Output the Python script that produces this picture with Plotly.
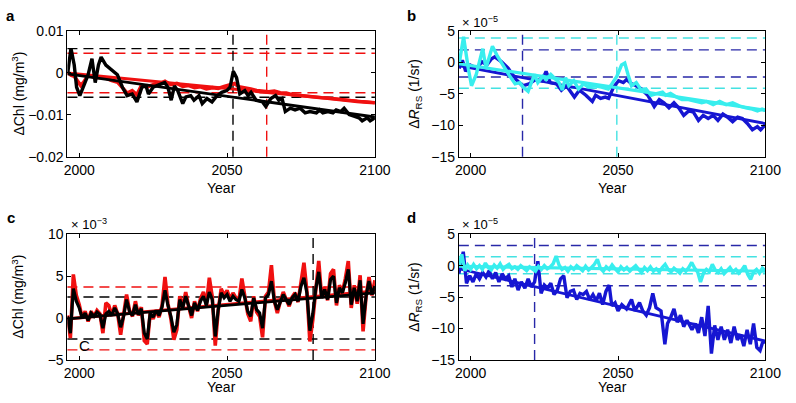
import plotly.graph_objects as go

W, H = 796, 403
FONT = "Liberation Sans, Arial, Helvetica, sans-serif"
RED = "#f01010"
BLACK = "#000000"
BLUE = "#1616d2"
NAVY = "#2828a8"
CYAN = "#38eeee"
CYAN_D = "#44e2e2"

X_RANGE = [1996, 2100]
TREND_YEARS = [1996, 2100]

# ---------------- panel a (Chl, x 1e-3 mg/m3) ----------------
a_black_years = [1996.1, 1997.2, 1998.3, 1999.1, 2000.2, 2001.3, 2003.0, 2004.3, 2005.4, 2006.5,
                 2007.4, 2009.0, 2011.3, 2012.9, 2014.6, 2016.2, 2017.9, 2019.5, 2021.2, 2022.6,
                 2023.4, 2025.0, 2027.3, 2028.9, 2030.0, 2031.1, 2032.2, 2033.3, 2035.0, 2036.1,
                 2037.7, 2038.8, 2040.5, 2041.6, 2043.2, 2044.9, 2046.6, 2048.2, 2049.9, 2051.0,
                 2052.1, 2053.2, 2054.3, 2056.0, 2057.1, 2058.1, 2059.8, 2062.0, 2063.1, 2064.8,
                 2066.4, 2067.5, 2068.6, 2069.7, 2071.4, 2073.0, 2074.7, 2076.4, 2078.0, 2080.2,
                 2081.3, 2082.4, 2084.1, 2085.8, 2086.9, 2088.5, 2089.6, 2091.3, 2092.9, 2094.6,
                 2095.7, 2097.4, 2098.4, 2100.0]
a_black_vals = [0.0, 5.9, 1.9, -3.4, -5.4, -3.4, -0.4, 3.4, -2.3, 1.9,
                3.8, 1.9, 0.4, -0.4, -3.4, -5.4, -5.0, -6.9, -3.4, -3.1,
                -5.0, -3.4, -2.7, -2.3, -3.4, -6.5, -3.1, -4.2, -7.3, -5.7,
                -5.4, -6.5, -5.4, -7.3, -6.1, -6.9, -5.4, -4.6, -4.2, -3.4,
                0.4, -1.1, -5.0, -4.2, -5.4, -4.6, -6.5, -6.9, -8.0, -6.1,
                -5.4, -6.5, -6.1, -9.2, -8.4, -8.8, -8.4, -9.5, -9.2, -9.5,
                -8.8, -9.5, -9.2, -9.5, -8.8, -9.2, -8.4, -9.9, -10.3, -10.7,
                -11.4, -10.7, -11.4, -10.7]
a_red_years = [1996, 1997.2, 1998.3, 1999.5, 2000.5, 2001.5, 2003, 2005, 2007, 2009,
               2011, 2013, 2014.6, 2016.2, 2017.9, 2019.5, 2021, 2023, 2025, 2027,
               2029, 2031, 2033, 2035, 2037, 2039, 2041, 2043, 2045, 2047,
               2049, 2051, 2052.5, 2054, 2056, 2058, 2060, 2062, 2064, 2066,
               2068, 2070, 2072, 2074, 2076, 2078, 2080, 2082, 2084, 2086,
               2088, 2090, 2092, 2094, 2096, 2098, 2100]
a_red_vals = [0.2, -0.5, -0.8, -2.2, -3.0, -2.2, -0.5, -1.0, -1.2, -1.2,
              -1.8, -2.2, -3.5, -4.8, -4.2, -5.2, -3.0, -3.3, -2.8, -2.6,
              -2.0, -2.8, -2.5, -3.2, -3.0, -3.5, -3.3, -3.8, -3.5, -3.7,
              -3.2, -2.8, -2.5, -3.3, -3.5, -3.8, -4.2, -4.4, -4.5, -4.3,
              -4.7, -4.8, -5.2, -5.3, -5.5, -5.6, -5.8, -5.9, -6.0, -6.2,
              -6.3, -6.4, -6.6, -6.8, -6.9, -7.0, -7.1]
a_red_trend = [0.0, -7.1]
a_black_trend = [-0.2, -10.5]
a_black_hlines = [5.8, -5.8]
a_red_hlines = [4.7, -4.7]
a_black_vline = 2052.0
a_red_vline = 2063.4

# ---------------- panel b (R_RS, x 1e-5 1/sr) ----------------
b_blue_years = [1996.1, 1997.2, 1998.3, 1999.9, 2002.1, 2003.8, 2005.5, 2007.1, 2008.2, 2010.5,
                2012.7, 2015.4, 2017.6, 2019.8, 2022.0, 2024.2, 2025.6, 2027.0, 2029.2, 2030.8,
                2032.5, 2035.2, 2036.9, 2039.1, 2041.3, 2042.4, 2044.1, 2045.7, 2046.8, 2048.5,
                2050.2, 2051.8, 2052.9, 2054.6, 2056.2, 2057.9, 2060.1, 2062.3, 2064.0, 2065.6,
                2067.3, 2069.0, 2070.6, 2072.3, 2074.0, 2075.6, 2077.3, 2078.9, 2080.6, 2082.3,
                2083.9, 2085.6, 2087.2, 2088.9, 2090.6, 2092.2, 2093.9, 2095.6, 2097.3, 2098.4,
                2100.0]
b_blue_vals = [-0.95, 0.35, -1.4, -0.4, -0.9, 0.1, -0.4, 0.6, 0.9, 0.1,
               -0.9, -2.7, -3.7, -3.4, -2.7, -2.9, -1.4, -3.2, -3.4, -4.4,
               -3.7, -5.5, -4.4, -5.2, -6.2, -5.2, -5.7, -5.5, -5.7, -3.9,
               -2.9, -3.2, -2.7, -3.4, -3.7, -4.2, -5.2, -7.0, -5.9, -6.4,
               -7.2, -6.4, -7.2, -8.4, -7.7, -7.9, -9.2, -8.4, -8.9, -8.4,
               -9.2, -8.2, -8.7, -9.4, -8.7, -8.9, -9.7, -10.7, -10.2, -10.7,
               -9.9]
b_cyan_years = [1996.1, 1997.6, 1999.2, 2000.3, 2001.9, 2004.1, 2005.2, 2007.4, 2009.0, 2011.2,
                2012.9, 2015.1, 2016.7, 2017.8, 2019.5, 2020.6, 2021.7, 2022.8, 2024.5, 2025.6,
                2027.2, 2028.9, 2030.0, 2031.1, 2032.2, 2033.3, 2035.0, 2036.6, 2038.3, 2039.9,
                2042.1, 2044.4, 2046.7, 2047.9, 2049.6, 2051.2, 2052.3, 2053.4, 2054.6, 2056.2,
                2057.9, 2059.5, 2061.2, 2063.4, 2065.1, 2066.2, 2067.8, 2069.5, 2071.7, 2073.9,
                2076.2, 2078.4, 2080.0, 2082.3, 2084.5, 2086.7, 2088.9, 2091.1, 2093.4, 2095.6,
                2097.3, 2098.9, 2100.0]
b_cyan_vals = [-0.25, 4.1, -0.95, -3.7, -1.9, 2.2, -0.9, 2.6, 1.1, -0.7,
               -1.9, -3.4, -3.2, -3.9, -4.6, -3.2, -1.9, -3.2, -2.2, -2.7,
               -1.9, -2.7, -3.2, -4.4, -2.4, -3.7, -2.9, -4.2, -3.4, -3.9,
               -3.7, -3.9, -4.2, -3.4, -2.2, -0.4, -0.1, -1.9, -3.7, -3.2,
               -4.4, -4.2, -5.2, -4.9, -4.7, -5.2, -4.9, -5.4, -5.9, -5.9,
               -6.2, -6.4, -6.2, -6.7, -6.2, -6.7, -6.4, -6.9, -7.2, -7.4,
               -7.7, -7.4, -7.6]
b_blue_trend = [-0.5, -9.7]
b_cyan_trend = [-0.2, -7.6]
b_blue_hlines = [2.0, -2.3]
b_cyan_hlines = [3.9, -4.1]
b_blue_vline = 2017.6
b_cyan_vline = 2049.6

# ---------------- panel c (Chl, x 1e-3 mg/m3) ----------------
c_years = list(range(1996, 2101))
c_black_vals = [0.2, -1.8, 3.5, 2.0, 1.2, 0.0, 0.6, -0.3, 0.6, 0.2,
                0.7, 0.4, -1.2, 0.5, 0.8, 0.3, 1.2, 0.5, -1.1, 0.2,
                2.2, 0.8, 0.3, 1.6, 0.4, 1.1, -1.8, -2.5, 0.6, 0.1,
                0.9, 0.3, 1.3, 3.3, 1.5, 0.2, -1.7, -0.8, 2.2, 1.2,
                2.6, 1.3, 0.3, 1.8, 0.9, 2.0, 2.6, 1.5, 3.1, 2.2,
                -2.2, 1.0, 3.0, 2.4, 2.8, 2.0, 2.6, 2.2, 2.0, 3.4,
                2.4, 0.8, 0.2, 2.4, 1.0, 0.6, -1.2, 2.4, 2.8, 4.4,
                2.0, 1.0, 2.0, 2.8, 2.2, 1.6, 2.4, 2.8, 2.0, 3.8,
                4.8, 3.0, -1.5, 0.5, 3.5, 5.5, 2.4, 3.4, 2.2, 4.6,
                5.0, 1.8, 3.6, 3.0, 4.2, 5.8, 1.6, 3.6, 2.0, 4.5,
                -0.7, 2.6, 4.4, 2.8, 3.8]
c_red_vals = [0.3, -2.4, 5.2, 2.7, 1.6, 0.0, 0.8, -0.4, 0.8, 0.2,
              0.9, 0.5, -1.8, 1.8, 1.5, 0.3, 1.5, 0.5, -2.0, 0.1,
              2.8, 0.9, 0.2, 2.0, 0.3, 1.3, -2.7, -3.1, 0.6, -0.1,
              0.9, 0.1, 1.5, 4.9, 1.7, -0.1, -2.6, -1.4, 2.6, 1.3,
              3.1, 1.4, 0.0, 2.0, 0.8, 2.3, 3.1, 1.6, 4.8, 2.5,
              -3.3, 0.9, 3.5, 2.7, 3.3, 2.2, 3.0, 2.4, 2.1, 4.7,
              2.7, 0.5, -0.4, 2.6, 0.7, 0.2, -2.3, 2.6, 3.1, 6.3,
              2.0, 0.6, 2.0, 3.1, 2.2, 1.4, 2.5, 3.0, 1.9, 4.3,
              6.6, 3.2, -2.8, -0.2, 3.9, 6.8, 2.4, 3.7, 2.1, 5.3,
              5.8, 1.5, 3.9, 3.1, 4.7, 6.8, 1.2, 3.9, 1.7, 5.1,
              -1.6, 2.5, 4.9, 2.7, 4.5]
c_red_trend = [-0.1, 3.2]
c_black_trend = [-0.1, 3.0]
c_black_hlines = [2.5, -2.5]
c_red_hlines = [3.7, -3.8]
c_black_vline = 2079.1

# ---------------- panel d (R_RS, x 1e-5 1/sr) ----------------
d_blue_years = [1996.0, 1997.5, 1998.6, 1999.7, 2000.8, 2001.9, 2003.0, 2004.1, 2005.2, 2006.3,
                2007.4, 2008.5, 2009.6, 2010.7, 2011.8, 2012.9, 2014.0, 2015.0, 2016.1, 2017.2,
                2018.4, 2019.5, 2020.6, 2021.7, 2022.8, 2023.9, 2025.0, 2026.1, 2027.2, 2028.3,
                2029.4, 2030.5, 2031.6, 2032.7, 2033.8, 2034.9, 2036.0, 2037.1, 2038.2, 2039.3,
                2040.4, 2041.5, 2042.6, 2043.7, 2044.8, 2045.9, 2047.0, 2047.9, 2049.0, 2050.0,
                2051.3, 2052.9, 2054.6, 2055.7, 2057.3, 2058.4, 2059.6, 2060.7, 2061.8, 2062.9,
                2064.6, 2065.9, 2066.8, 2067.9, 2069.0, 2070.1, 2071.2, 2072.3, 2073.4, 2075.1,
                2076.2, 2077.3, 2078.4, 2079.5, 2080.6, 2081.7, 2082.8, 2083.9, 2085.0, 2086.1,
                2087.2, 2088.3, 2089.4, 2090.5, 2091.6, 2092.7, 2093.8, 2094.9, 2096.0, 2097.1,
                2098.2, 2099.0, 2100.0]
d_blue_vals = [-1.3, 2.2, -2.8, -1.6, -2.6, -1.3, -2.1, -1.1, -1.8, -0.8,
               -2.1, -1.1, -2.6, -1.3, -2.1, -1.6, -3.4, -2.1, -3.9, -2.6,
               -3.6, -2.1, -3.4, -2.6, 0.7, -4.4, -3.1, -3.6, -2.8, -4.6,
               -3.9, -2.1, -1.6, -5.1, -4.1, -3.9, -5.4, -4.4, -4.6, -4.1,
               -5.4, -4.6, -5.6, -4.4, -6.2, -4.1, -3.1, -6.4, -5.9, -7.2,
               -6.2, -6.9, -5.4, -7.2, -5.9, -7.2, -7.9, -6.7, -4.4, -6.7,
               -7.2, -12.5, -9.2, -8.2, -6.9, -9.0, -7.9, -9.7, -8.7, -10.2,
               -9.2, -10.7, -8.2, -11.2, -6.4, -14.0, -9.5, -11.8, -9.7, -11.8,
               -10.2, -12.3, -9.7, -11.8, -11.0, -12.8, -10.2, -12.5, -9.2, -13.0,
               -13.5, -12.3, -12.0]
d_cyan_years = list(range(1996, 2101))
d_cyan_vals = [-0.2, 1.8, -0.8, 0.1, -0.6, 0.2, -0.5, 0.0, -0.6, 0.4,
               -0.3, -0.7, 0.1, -0.4, 0.3, -0.6, -0.1, 0.2, -0.5, -0.2,
               -0.6, 0.0, -0.4, -0.8, -0.2, -0.6, -0.9, -0.1, -0.6, 0.0,
               -0.5, -0.2, 0.3, 1.5, 0.1, -0.6, -0.3, -0.9, -0.2, -0.6,
               0.0, -0.4, -0.8, -0.1, -0.7, -0.3, 0.2, 1.0, -0.4, -0.9,
               -0.2, -0.6, 0.1, -0.5, -1.0, -0.2, -0.7, -0.3, -0.9, -0.4,
               0.0, -0.6, -1.1, -0.3, -0.8, -0.2, -0.9, -0.5, -1.0, -0.3,
               0.2, -0.6, -1.0, -0.4, -0.8, -1.2, -0.5, -0.9, -0.3, 0.5,
               -0.4, -1.0, -2.6, -1.2, -0.6, -1.0, 0.2, -0.7, -1.1, -0.5,
               -1.3, -0.8, -0.3, -1.0, -0.6, -1.2, -0.7, 0.0, -1.4, -2.2,
               -1.0, -0.6, -1.2, -0.4, -0.8]
d_blue_trend = [-0.5, -12.0]
d_cyan_trend = [-0.1, -0.9]
d_blue_hlines = [3.2, -3.2]
d_cyan_hlines = [1.4, -1.3]
d_blue_vline = 2021.7

# tick definitions
xticks = [2000, 2050, 2100]
a_yticks = [-20, -10, 0, 10]
a_yticktext = ["\u22120.02", "\u22120.01", "0", "0.01"]
bd_yticks = [-15, -10, -5, 0, 5]
bd_yticktext = ["\u221215", "\u221210", "\u22125", "0", "5"]
c_yticks = [-5, 0, 5, 10]
c_yticktext = ["\u22125", "0", "5", "10"]

# ---------------- layout geometry (pixels) ----------------
def px_x(x):
    return x / W

def px_y(y):
    return 1 - y / H

LEFT_DOM = [px_x(66), px_x(381)]
RIGHT_DOM = [px_x(467), px_x(781)]
TOP_DOM = [px_y(155), px_y(24)]
BOT_DOM = [px_y(366.5), px_y(235.5)]

fig = go.Figure()

def line(xs, ys, color, width, axis):
    fig.add_trace(go.Scatter(x=xs, y=ys, mode="lines",
                             line=dict(color=color, width=width),
                             xaxis="x" + axis, yaxis="y" + axis,
                             showlegend=False, hoverinfo="skip"))

def hline(v, color, axis):
    fig.add_shape(type="line", xref="x" + axis + " domain",
                  yref="y" + axis, x0=0, x1=1, y0=v, y1=v, layer="below",
                  line=dict(color=color, width=1.4, dash="10px,6px"))

def vline(v, color, axis):
    fig.add_shape(type="line", xref="x" + axis, yref="y" + axis + " domain",
                  x0=v, x1=v, y0=0, y1=1, layer="below",
                  line=dict(color=color, width=1.4, dash="10px,6px"))

# panel a -> axis ""
for v in a_black_hlines:
    hline(v, BLACK, "")
for v in a_red_hlines:
    hline(v, RED, "")
vline(a_black_vline, BLACK, "")
vline(a_red_vline, RED, "")
line(a_red_years, a_red_vals, RED, 3.6, "")
line(TREND_YEARS, a_red_trend, RED, 3.2, "")
line(a_black_years, a_black_vals, BLACK, 3.4, "")
line(TREND_YEARS, a_black_trend, BLACK, 2.8, "")

# panel b -> axis "2"
for v in b_cyan_hlines:
    hline(v, CYAN_D, "2")
for v in b_blue_hlines:
    hline(v, NAVY, "2")
vline(b_blue_vline, NAVY, "2")
vline(b_cyan_vline, CYAN_D, "2")
line(b_blue_years, b_blue_vals, BLUE, 3.4, "2")
line(TREND_YEARS, b_blue_trend, BLUE, 2.8, "2")
line(b_cyan_years, b_cyan_vals, CYAN, 3.4, "2")
line(TREND_YEARS, b_cyan_trend, CYAN, 3.2, "2")

# panel c -> axis "3"
for v in c_red_hlines:
    hline(v, RED, "3")
for v in c_black_hlines:
    hline(v, BLACK, "3")
vline(c_black_vline, BLACK, "3")
line(c_years, c_red_vals, RED, 3.6, "3")
line(TREND_YEARS, c_red_trend, RED, 3.2, "3")
line(c_years, c_black_vals, BLACK, 3.2, "3")
line(TREND_YEARS, c_black_trend, BLACK, 2.8, "3")

# panel d -> axis "4"
for v in d_blue_hlines:
    hline(v, NAVY, "4")
for v in d_cyan_hlines:
    hline(v, CYAN_D, "4")
vline(d_blue_vline, NAVY, "4")
line(d_blue_years, d_blue_vals, BLUE, 3.4, "4")
line(TREND_YEARS, d_blue_trend, BLUE, 2.8, "4")
line(d_cyan_years, d_cyan_vals, CYAN, 3.4, "4")
line(TREND_YEARS, d_cyan_trend, CYAN, 3.2, "4")

tickfont = dict(family=FONT, size=14, color="#000")
common = dict(showline=True, linecolor="#000", linewidth=1, mirror="ticks",
              ticks="inside", ticklen=4, tickcolor="#000", tickwidth=1,
              showgrid=False, zeroline=False, tickfont=tickfont, fixedrange=True)

def xax(domain, anchor):
    return dict(domain=domain, anchor=anchor, range=X_RANGE,
                tickmode="array", tickvals=xticks, ticktext=[str(t) for t in xticks], **common)

def yax(domain, anchor, rng, tv, tt):
    return dict(domain=domain, anchor=anchor, range=rng,
                tickmode="array", tickvals=tv, ticktext=tt, **common)

fig.update_layout(
    width=W, height=H,
    margin=dict(l=0, r=0, t=0, b=0),
    paper_bgcolor="white", plot_bgcolor="white",
    font=dict(family=FONT, size=14, color="#000"),
    xaxis=xax(LEFT_DOM, "y"),
    yaxis=yax(TOP_DOM, "x", [-20, 10], a_yticks, a_yticktext),
    xaxis2=xax(RIGHT_DOM, "y2"),
    yaxis2=yax(TOP_DOM, "x2", [-15, 5], bd_yticks, bd_yticktext),
    xaxis3=xax(LEFT_DOM, "y3"),
    yaxis3=yax(BOT_DOM, "x3", [-5, 10], c_yticks, c_yticktext),
    xaxis4=xax(RIGHT_DOM, "y4"),
    yaxis4=yax(BOT_DOM, "x4", [-15, 5], bd_yticks, bd_yticktext),
)

def ann(text, x, y, size=14, bold=False, angle=0, xanchor="center", yanchor="middle"):
    fig.add_annotation(text=("<b>%s</b>" % text) if bold else text,
                       x=px_x(x), y=px_y(y), xref="paper", yref="paper",
                       showarrow=False, textangle=angle, xanchor=xanchor, yanchor=yanchor,
                       font=dict(family=FONT, size=size, color="#000"))

# panel letters
ann("a", 8, 8, size=15, bold=True)
ann("b", 418, 8, size=15, bold=True)
ann("c", 8, 218, size=15, bold=True)
ann("d", 418, 218, size=15, bold=True)

# y titles
chl_title = "\u0394Chl (mg/m<sup>3</sup>)"
rrs_title = "\u0394<i>R</i><sub>RS</sub> (1/sr)"
ann(chl_title, 15, 89.5, angle=-90)
ann(rrs_title, 422, 89.5, angle=-90)
ann(chl_title, 15, 301, angle=-90)
ann(rrs_title, 422, 301, angle=-90)

# x titles
ann("Year", 223.5, 187)
ann("Year", 624, 187)
ann("Year", 223.5, 395)
ann("Year", 624, 395)

# exponent labels
ann("\u00d7 10<sup>\u22125</sup>", 468, 15, size=13, xanchor="left")
ann("\u00d7 10<sup>\u22123</sup>", 68, 225, size=13, xanchor="left")
ann("\u00d7 10<sup>\u22125</sup>", 468, 225, size=13, xanchor="left")

# stray label in panel c
ann("C", 83, 351, size=15)

fig.write_html("out.html",
               config={"displayModeBar": False, "staticPlot": False},
               post_script="document.body.style.margin='0px';document.body.style.overflow='hidden';")
